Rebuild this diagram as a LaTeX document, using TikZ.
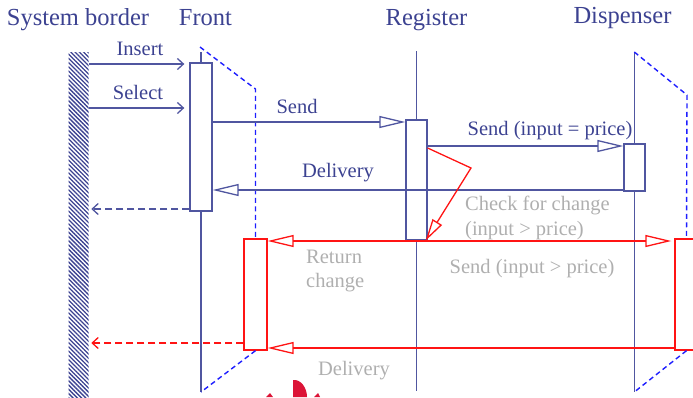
\documentclass[tikz,border=0pt]{standalone}
\usepackage{fontspec}
\setmainfont{Liberation Serif}
\usetikzlibrary{arrows.meta,patterns.meta}
\definecolor{ink}{RGB}{60,66,145}
\definecolor{lifec}{RGB}{80,86,160}
\definecolor{frameblue}{RGB}{30,30,255}
\definecolor{msgred}{RGB}{255,20,20}
\definecolor{mute}{RGB}{175,175,175}
\definecolor{blob}{RGB}{220,20,55}
\begin{document}
\begin{tikzpicture}[x=1pt,y=-1pt,
  title/.style={font=\fontsize{24.5}{28}\selectfont, text=ink, anchor=base, inner sep=0},
  lbl/.style={font=\fontsize{20.5}{24}\selectfont, text=ink, anchor=base, inner sep=0},
  greylbl/.style={font=\fontsize{20.5}{24}\selectfont, text=mute, anchor=base west, inner sep=0},
  life/.style={draw=lifec, line width=1.3pt},
  frame/.style={draw=frameblue, line width=1.4pt, dash pattern=on 5pt off 3.5pt},
  act/.style={draw=lifec, fill=white, line width=1.3pt, inner sep=0, minimum width=22pt},
  redact/.style={draw=msgred, fill=white, line width=1.3pt, inner sep=0, minimum width=23pt, minimum height=111pt},
  msg/.style={draw=lifec, line width=1.3pt},
  redmsg/.style={draw=msgred, line width=1.3pt},
  vee/.style={-{Straight Barb[length=6pt,width=11pt]}},
  tri/.style={-{Triangle[open,length=26pt,width=12pt]}},
  trismall/.style={-{Triangle[open,length=22pt,width=11pt]}},
  retdash/.style={dash pattern=on 7pt off 4pt}]
\useasboundingbox (0,0) rectangle (693,397);

% column headings
\node[title] (hsys)  at (78,25)    {System border};
\node[title] (hfront) at (205.5,25) {Front};
\node[title] (hreg)  at (426.5,25) {Register};
\node[title] (hdisp) at (622.5,23) {Dispenser};

% hatched system border
\node[anchor=north west, minimum width=20pt, minimum height=350pt, inner sep=0,
      pattern={Lines[angle=-45,distance=3pt,line width=1.3pt]}, pattern color=ink]
      (border) at (68,52) {};

% lifelines
\coordinate (ftop) at (201,52);    \coordinate (fbot) at (201,392);
\coordinate (rtop) at (416.5,51);  \coordinate (rbot) at (416.5,391);
\coordinate (dtop) at (634.3,52);  \coordinate (dbot) at (634.3,392);
\draw[life] (ftop) -- (fbot);
\draw[life] (rtop) -- (rbot);
\draw[life] (dtop) -- (dbot);

% activation boxes
\node[act, minimum height=148pt] (fact) at (201,137) {};
\node[act, minimum width=21pt, minimum height=120pt] (regact) at (416.5,180) {};
\node[act, minimum width=21pt, minimum height=47pt] (dact) at (634.5,167.5) {};
\node[redact] (redfront) at (255.5,294.5) {};
\node[redact] (reddisp) at (686.5,294.5) {};

% dashed object frames
\coordinate (fcorner) at (200,47);
\coordinate (fknee) at (255.5,89);
\coordinate (dknee) at (687,95);
\draw[frame] (fcorner) -- (fknee) -- (redfront.north);
\draw[frame] (redfront.south) -- (fbot);
\draw[frame] (dtop) -- (dknee) -- (reddisp.north);
\draw[frame] (reddisp.south) -- (dbot);

% normal flow
\draw[msg, vee, shorten >=5pt] (border.east |- 0,64) -- (fact.west |- 0,64);
\draw[msg, vee, shorten >=5pt] (border.east |- 0,108) -- (fact.west |- 0,108);
\draw[msg, tri] (fact.east |- 0,122) -- (regact.west |- 0,122);
\draw[msg, tri] (regact.east |- 0,146) -- (dact.west |- 0,146);
\draw[msg, tri] (dact.west |- 0,190) -- (fact.east |- 0,190);
\draw[msg, vee, retdash, shorten >=2pt] (fact.west |- 0,209) -- (border.east |- 0,209);

\node[lbl] (linsert) at (140,55)  {Insert};
\node[lbl] (lselect) at (138,99)  {Select};
\node[lbl] (lsend)   at (297,113) {Send};
\node[lbl] (lsendeq) at (550,135) {Send (input = price)};
\node[lbl] (ldeliv)  at (338,177) {Delivery};

% change flow
\coordinate (chkbend) at (471,168);
\draw[redmsg, trismall] (regact.east |- 0,148) -- (chkbend) -- ([xshift=-2pt]regact.south east);
\draw[redmsg, tri] (regact.south |- 0,241) -- (redfront.east |- 0,241);
\draw[redmsg, tri] (regact.south |- 0,241) -- ([xshift=-3pt]reddisp.west |- 0,241);
\draw[redmsg, tri] (reddisp.west |- 0,348) -- (redfront.east |- 0,348);
\draw[redmsg, vee, retdash, shorten >=2pt] (redfront.west |- 0,343) -- (border.east |- 0,343);

\node[greylbl] (lchk1) at (465,210) {Check for change};
\node[greylbl] (lchk2) at (465,235) {(input > price)};
\node[greylbl] (lret1) at (306,263) {Return};
\node[greylbl] (lret2) at (306,287) {change};
\node[greylbl, anchor=base] (lsendgt) at (532,273) {Send (input > price)};
\node[greylbl, anchor=base] (ldeliv2) at (354,375) {Delivery};

% red emblem at the lower edge
\fill[blob] (293,397) -- (293,380) .. controls (301,379) and (307,388) .. (307,397) -- cycle;
\fill[blob] (266,397) -- (270,393) -- (273,397) -- cycle;
\fill[blob] (314,397) -- (318,393) -- (320,397) -- cycle;
\end{tikzpicture}
\end{document}
